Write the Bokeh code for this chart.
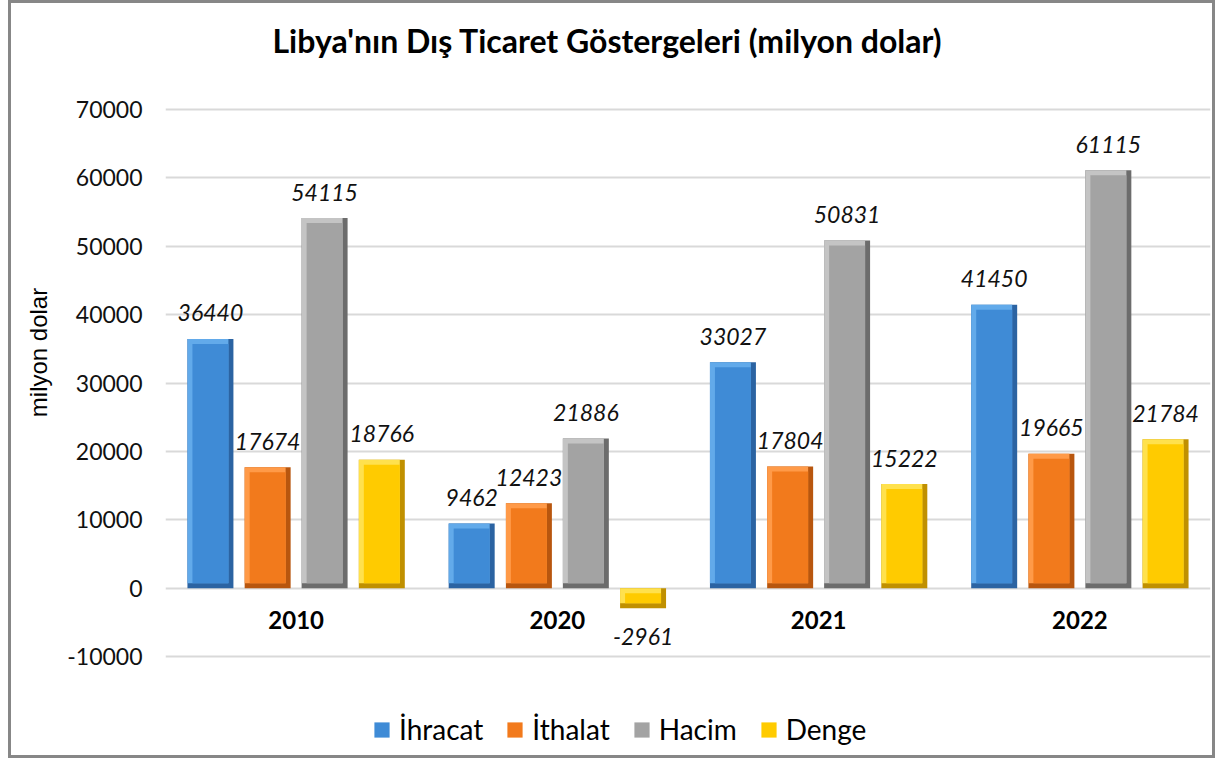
from bokeh.plotting import figure
from bokeh.models import Range1d, FixedTicker, Legend, LegendItem, ColumnDataSource, Label
from bokeh.embed import file_html
from bokeh.resources import INLINE
from bokeh.core.properties import value

# ---- data ----
title_text = "Libya'nın Dış Ticaret Göstergeleri  (milyon dolar)"
y_label = "milyon dolar"
years = ["2010", "2020", "2021", "2022"]
series_names = ["İhracat", "İthalat", "Hacim", "Denge"]
ihracat = [36440, 9462, 33027, 41450]
ithalat = [17674, 12423, 17804, 19665]
hacim = [54115, 21886, 50831, 61115]
denge = [18766, -2961, 15222, 21784]
y_ticks = [-10000, 0, 10000, 20000, 30000, 40000, 50000, 60000, 70000]

series_values = [ihracat, ithalat, hacim, denge]
light_colors = ["#62aaea", "#ff9a48", "#c4c4c4", "#ffe14d"]
main_colors = ["#3f8bd6", "#f27a1c", "#a3a3a3", "#ffcb00"]
dark_colors = ["#2b63a2", "#b8560e", "#6c6c6c", "#c09000"]
offsets = [-0.328, -0.109, 0.109, 0.328]
FONT = "Lato"

# ---- layout (canvas pixels) ----
W, H = 1207, 758
LEFT, RIGHT = 154, 8
AX_TOP = 106                        # pixel row of the 70000 line
axis_px = 547.0                     # pixels spanned by -10000..70000
upp = 80000 / axis_px               # y data units per pixel
y_end = 70000 + AX_TOP * upp
y_start = 70000 - (H - AX_TOP) * upp
frame_w = W - LEFT - RIGHT
px_x = 4.0 / frame_w                # x data units per pixel

p = figure(width=W, height=H,
           x_range=Range1d(0, 4), y_range=Range1d(y_start, y_end),
           output_backend="svg", toolbar_location=None,
           min_border_left=LEFT, min_border_right=RIGHT,
           min_border_top=0, min_border_bottom=0)
p.styles = {"border": "3px solid #878787", "margin-left": "8px",
            "box-sizing": "border-box"}
p.outline_line_color = None
p.background_fill_color = "white"
p.border_fill_color = "white"

# title
p.add_layout(Label(x=107 * px_x, y=y_end - 37 * upp,
                   text=title_text, text_align="left", text_baseline="alphabetic",
                   text_font=FONT, text_font_size="32px", text_font_style="bold",
                   text_color="#000000"))

# y axis
p.yaxis.ticker = FixedTicker(ticks=y_ticks)
p.yaxis.major_label_overrides = {t: str(t) for t in y_ticks}
p.yaxis.axis_line_color = None
p.yaxis.major_tick_line_color = None
p.yaxis.minor_tick_line_color = None
p.yaxis.major_label_text_font = FONT
p.yaxis.major_label_text_font_size = "23px"
p.yaxis.major_label_text_color = "#111111"
p.yaxis.major_label_standoff = 17
p.yaxis.axis_label = "\u00a0" * 9 + y_label
p.yaxis.axis_label_text_font = "Liberation Sans"
p.yaxis.axis_label_text_font_size = "24px"
p.yaxis.axis_label_text_font_style = "normal"
p.yaxis.axis_label_text_color = "#000000"
p.yaxis.axis_label_standoff = 12

p.ygrid.ticker = FixedTicker(ticks=y_ticks)
p.ygrid.grid_line_color = "#d9d9d9"
p.ygrid.grid_line_width = 2
p.xgrid.grid_line_color = None
p.xaxis.visible = False

# category labels at the zero line
cat_pos = [i + 0.5 for i in range(len(years))]
cat_src = ColumnDataSource(dict(x=cat_pos, y=[0] * len(years), text=years))
p.text(x="x", y="y", text="text", source=cat_src, y_offset=32,
       text_align="center", text_baseline="alphabetic",
       text_font=value(FONT), text_font_size="24px", text_font_style="bold",
       text_color="#000000")

BAR_W = 0.176
bx = 5 * px_x
by = 5 * upp
items = []
for name, vals, lc, mc, dc, off in zip(series_names, series_values, light_colors,
                                       main_colors, dark_colors, offsets):
    xs = [c + off for c in cat_pos]
    hi = [max(0, v) for v in vals]
    lo = [min(0, v) for v in vals]
    src = ColumnDataSource(dict(
        x=xs, top=vals, hi=hi, lo=lo,
        lx=[x - bx / 2 for x in xs], lbot=[l + by for l in lo],
        mtop=[h - by for h in hi], mbot=[l + by for l in lo],
        text=[str(v) for v in vals],
        yoff=[-26 if v >= 0 else 28 for v in vals]))
    r_out = p.vbar(x="x", top="hi", bottom="lo", width=BAR_W, source=src,
                   fill_color=dc, line_color=None)
    r_light = p.vbar(x="lx", top="hi", bottom="lbot", width=BAR_W - bx, source=src,
                     fill_color=lc, line_color=None)
    r_main = p.vbar(x="x", top="mtop", bottom="mbot", width=BAR_W - 2 * bx, source=src,
                    fill_color=mc, line_color=None)
    p.text(x="x", y="top", text="text", source=src, y_offset="yoff",
           text_align="center", text_baseline="alphabetic",
           text_font=value(FONT), text_font_size="23px", text_font_style="italic",
           text_color="#111111")
    items.append(LegendItem(label=name, renderers=[r_main]))

legend = Legend(items=items, orientation="horizontal", location=(207, 15),
                border_line_color=None, background_fill_alpha=0,
                glyph_width=19, glyph_height=19, label_standoff=8, spacing=22,
                label_text_font=FONT, label_text_font_size="28px",
                label_text_color="#000000", padding=0, margin=0)
p.add_layout(legend, "center")

open("out.html", "w").write(file_html(p, INLINE))
